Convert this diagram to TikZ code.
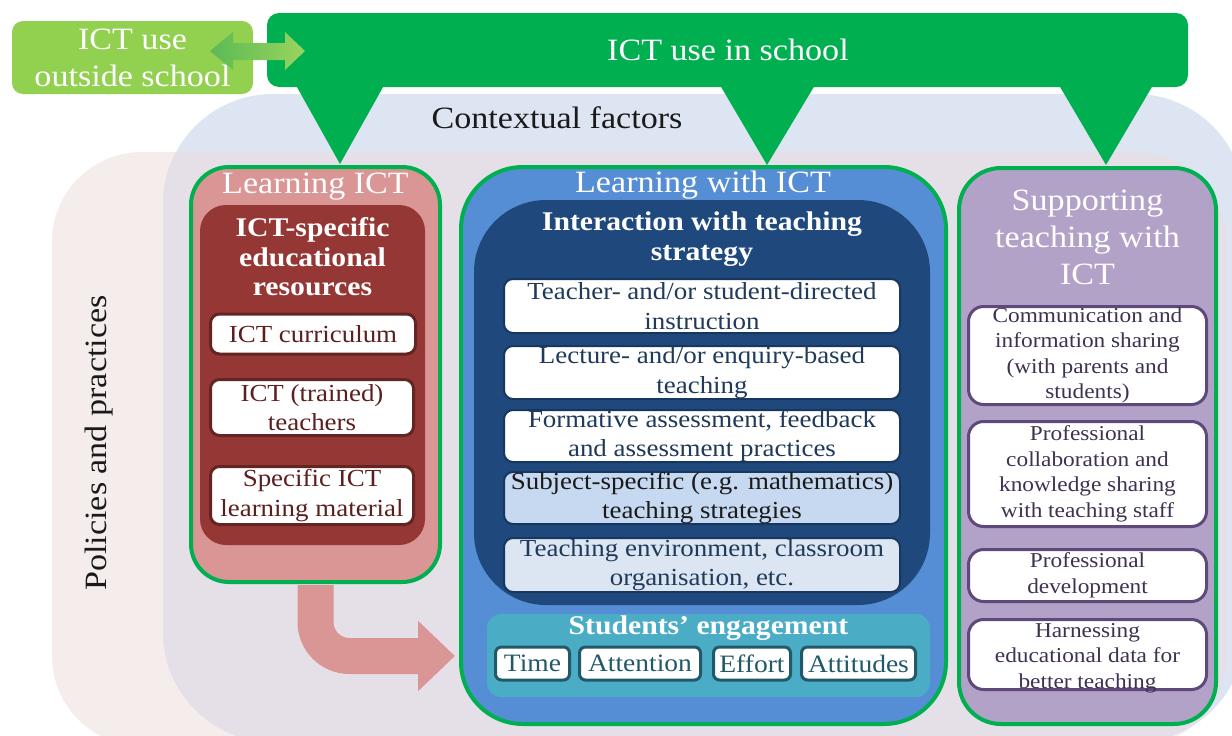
\documentclass[tikz,border=0pt]{standalone}
\usepackage{fontspec}
\setmainfont[FakeStretch=1.1]{Liberation Serif}
\usetikzlibrary{arrows.meta}
\definecolor{pinkbg}{HTML}{F5ECEC}
\definecolor{bluebg}{HTML}{DCE5F1}
\definecolor{mauvebg}{HTML}{E5E0E8}
\definecolor{ictgreen}{HTML}{00B050}
\definecolor{lightgreen}{HTML}{92D050}
\definecolor{lictfill}{HTML}{D99694}
\definecolor{resfill}{HTML}{953735}
\definecolor{redtext}{HTML}{5C1F1F}
\definecolor{redborder}{HTML}{632523}
\definecolor{lwfill}{HTML}{558ED5}
\definecolor{itsfill}{HTML}{1F497D}
\definecolor{itsborder}{HTML}{17375E}
\definecolor{navytext}{HTML}{1F3A5A}
\definecolor{boxfour}{HTML}{C6D9F1}
\definecolor{boxfive}{HTML}{DCE6F2}
\definecolor{sefill}{HTML}{4BACC6}
\definecolor{tealtext}{HTML}{215968}
\definecolor{stfill}{HTML}{B3A2C7}
\definecolor{purpleborder}{HTML}{5F497A}
\definecolor{purpletext}{HTML}{3F3151}
\definecolor{textblack}{HTML}{1A1A1A}
\definecolor{arrowdark}{HTML}{3DB54A}
\definecolor{arrowleft}{HTML}{5BBA55}
\definecolor{arrowright}{HTML}{9AD45E}
\tikzset{
  fL/.style={font=\fontsize{31}{37}\selectfont},
  fM/.style={font=\fontsize{24.5}{29.5}\selectfont},
  fB/.style={font=\fontsize{27}{29.5}\selectfont\bfseries},
  fSE/.style={font=\fontsize{25}{29}\selectfont},
  fS/.style={font=\fontsize{21.2}{25.5}\selectfont},
  colbox/.style={draw=ictgreen, line width=4pt},
  lbox/.style={fill=white, draw=redborder, line width=3pt, rounded corners=9pt, text=redtext, fM, align=center},
  mbox/.style={draw=itsborder, line width=2pt, rounded corners=9pt, text=navytext, fM, align=center, minimum width=396pt},
  sbox/.style={fill=white, draw=tealtext, line width=3pt, rounded corners=6pt, text=tealtext, fSE, minimum height=33pt},
  rbox/.style={fill=white, draw=purpleborder, line width=3pt, rounded corners=15pt, text=purpletext, fS, align=center, minimum width=238pt},
  wtitle/.style={text=white, fL, align=center},
  pointer/.style={fill=ictgreen},
}
\begin{document}
\begin{tikzpicture}[x=1pt,y=-1pt, every node/.style={inner sep=0pt, outer sep=0pt}]
\useasboundingbox (0,0) rectangle (1232,736);
\clip (0,0) rectangle (1232,736);
\fill[white] (0,0) rectangle (1232,736);
% background regions
\fill[pinkbg, rounded corners=90pt] (52,152) rectangle (1226,746);
\fill[bluebg, rounded corners=110pt] (163,94) rectangle (1245,742);
\begin{scope}
  \clip[rounded corners=90pt] (52,152) rectangle (1226,746);
  \fill[mauvebg, rounded corners=110pt] (163,94) rectangle (1245,742);
\end{scope}
\node[fL, text=textblack, anchor=base] (ctx) at (557,128) {Contextual factors};
\node[fL, text=textblack, rotate=90] (pol) at (99,443) {Policies and practices};

% pointers from the school banner
\fill[pointer] (293,80) -- (387,80) -- (340,164) -- cycle;
\fill[pointer] (717,80) -- (818,80) -- (767,165) -- cycle;
\fill[pointer] (1056,80) -- (1156,80) -- (1106,165) -- cycle;

% Learning ICT column
\node[colbox, fill=lictfill, rounded corners=38pt, minimum width=249pt, minimum height=415pt] (lict) at (315.5,374.5) {};
\node[wtitle, anchor=base] (lictT) at (315.5,193) {Learning ICT};
\node[fill=resfill, rounded corners=26pt, minimum width=225pt, minimum height=340pt] (res) at (312.5,375) {};
\node[text=white, fB, align=center] (resT) at (312.5,257) {ICT-specific\\educational\\resources};
\node[lbox, minimum width=205pt, minimum height=40pt] (cur) at (313,334) {ICT curriculum};
\node[lbox, minimum width=203pt, minimum height=56pt] (tea) at (312,407.5) {ICT (trained)\\teachers};
\node[lbox, minimum width=203pt, minimum height=58pt] (mat) at (312,495.5) {Specific ICT\\learning material};

% Learning with ICT column
\node[colbox, fill=lwfill, rounded corners=62pt, minimum width=485pt, minimum height=557pt] (lwict) at (703.5,445.5) {};
\node[wtitle, anchor=base] (lwictT) at (703,192) {Learning with ICT};
\node[fill=itsfill, rounded corners=72pt, minimum width=456pt, minimum height=405pt] (its) at (702,402.5) {};
\node[text=white, fB, align=center] (itsT) at (702,239) {Interaction with teaching\\strategy};
\node[mbox, fill=white, minimum height=54pt] (b1) at (702,306) {Teacher- and/or student-directed\\instruction};
\node[mbox, fill=white, minimum height=53pt] (b2) at (702,372.5) {Lecture- and/or enquiry-based\\teaching};
\node[mbox, fill=white, minimum height=52pt] (b3) at (702,436) {Formative assessment, feedback\\and assessment practices};
\node[mbox, fill=boxfour, text=textblack, minimum height=52pt] (b4) at (702,498) {Subject-specific (e.g. mathematics)\\teaching strategies};
\node[mbox, fill=boxfive, minimum height=54pt] (b5) at (702,565) {Teaching environment, classroom\\organisation, etc.};
\node[fill=sefill, rounded corners=14pt, minimum width=443pt, minimum height=83pt] (se) at (708.5,655.5) {};
\node[text=white, fB, anchor=base] (seT) at (708.5,634) {Students’ engagement};
\node[sbox, minimum width=74pt] (time) at (532.5,663.5) {Time};
\node[sbox, minimum width=121pt] (att) at (640,663.5) {Attention};
\node[sbox, minimum width=77pt] (eff) at (752,663.5) {Effort};
\node[sbox, minimum width=114pt] (atd) at (858.5,663.5) {Attitudes};

% Supporting teaching column
\node[colbox, fill=stfill, rounded corners=42pt, minimum width=257pt, minimum height=556pt] (stict) at (1087.5,446) {};
\node[wtitle] (stictT) at (1087.5,237.5) {Supporting\\teaching with\\ICT};
\node[rbox, minimum height=98pt] (r1) at (1087.5,355.5) {Communication and\\information sharing\\(with parents and\\students)};
\node[rbox, minimum height=105pt] (r2) at (1087.5,474) {Professional\\collaboration and\\knowledge sharing\\with teaching staff};
\node[rbox, minimum height=52pt] (r3) at (1087.5,575.5) {Professional\\development};
\node[rbox, minimum height=70pt] (r4) at (1087.5,654.5) {};
\node[text=purpletext, fS, align=center] (r4T) at (1087.5,658) {Harnessing\\educational data for\\better teaching};

% pink arrow from Learning ICT to Learning with ICT
\coordinate (atip) at (455,656);
\draw[lictfill, line width=36pt, rounded corners=34pt, -{Triangle[length=37pt,width=68pt]}] ([yshift=-3pt]lict.south) -- (lict.south |- atip) -- (atip);

% top boxes
\node[fill=lightgreen, rounded corners=11pt, minimum width=241pt, minimum height=73pt, text=white, fL, align=center] (outs) at (132.5,57.5) {ICT use\\outside school};
\node[fill=ictgreen, rounded corners=12pt, minimum width=921pt, minimum height=74pt] (school) at (727.5,50) {};
\node[text=white, fL] (schoolT) at (728,50) {ICT use in school};
\coordinate (da1) at (210,51);
\coordinate (da2) at (305,51);
\shade[left color=arrowleft, middle color=arrowdark, right color=arrowright]
  (da1) -- ++(23,-19) -- ++(0,11) -- ++(52,0) -- ++(0,-11) -- (da2) -- ++(-20,19) -- ++(0,-10) -- ++(-52,0) -- ++(0,10) -- cycle;
\end{tikzpicture}
\end{document}
